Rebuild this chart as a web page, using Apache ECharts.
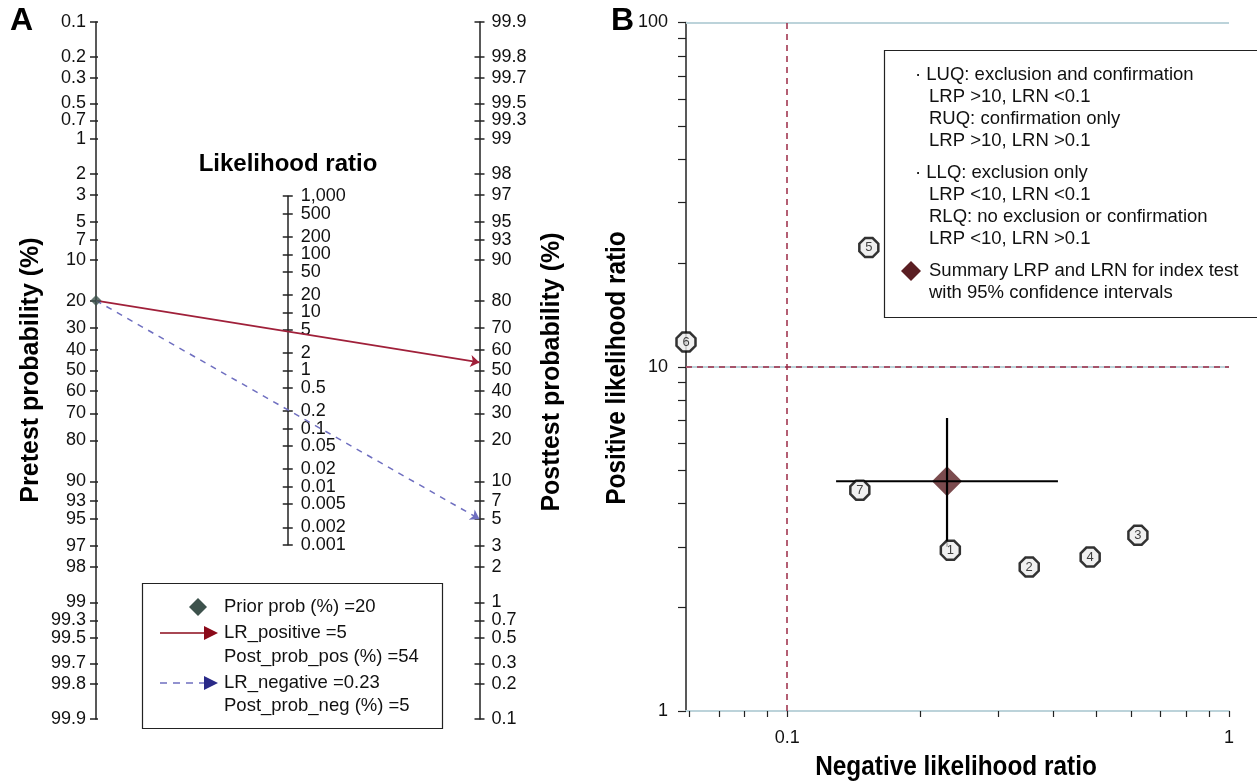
<!DOCTYPE html>
<html><head><meta charset="utf-8">
<script src="https://cdn.jsdelivr.net/npm/echarts@6/dist/echarts.min.js"></script>
<style>html,body{margin:0;padding:0;background:#fff}#c{width:1257px;height:782px}</style>
</head><body><div id="c"></div>
<script>
// ---------- Panel A data (Fagan nomogram) ----------
const probTicks = [0.1,0.2,0.3,0.5,0.7,1,2,3,5,7,10,20,30,40,50,60,70,80,90,93,95,97,98,99,99.3,99.5,99.7,99.8,99.9];
const lrTicks = [1000,500,200,100,50,20,10,5,2,1,0.5,0.2,0.1,0.05,0.02,0.01,0.005,0.002,0.001];
const lrTickLabels = ['1,000','500','200','100','50','20','10','5','2','1','0.5','0.2','0.1','0.05','0.02','0.01','0.005','0.002','0.001'];
const priorProb = 20;
const lrPositive = 5;
const postProbPos = 54;
const lrNegative = 0.23;
const postProbNeg = 5;

// ---------- Panel B data (likelihood ratio scattergram) ----------
const studyIds = ['1','2','3','4','5','6','7'];
const studyLRN = [0.234,0.353,0.622,0.485,0.153,0.059,0.146];
const studyLRP = [2.93,2.62,3.24,2.80,22.2,11.8,4.38];
const summaryLRN = 0.23;
const summaryLRP = 4.65;
const lrnCI = [0.129,0.41];
const lrpCI = [3.0,7.1];
const xTickVals = [0.06,0.07,0.08,0.09,0.1,0.2,0.3,0.4,0.5,0.6,0.7,0.8,0.9,1];
const xLabelVals = [0.1,1];
const yTickVals = [1,2,3,4,5,6,7,8,9,10,20,30,40,50,60,70,80,90,100];
const yLabelVals = [1,10,100];
const xMinVal = 0.059;

const legendA = ['Prior prob (%) =' + priorProb, 'LR_positive =' + lrPositive, 'Post_prob_pos (%) =' + postProbPos, 'LR_negative =' + lrNegative, 'Post_prob_neg (%) =' + postProbNeg];
const legendB = ['· LUQ: exclusion and confirmation','LRP >10, LRN <0.1','RUQ: confirmation only','LRP >10, LRN >0.1','· LLQ: exclusion only','LRP <10, LRN <0.1','RLQ: no exclusion or confirmation','LRP <10, LRN >0.1','Summary LRP and LRN for index test','with 95% confidence intervals'];

// ---------- helpers ----------
const FONT = "'Liberation Sans', Arial, sans-serif";
const logit = p => Math.log(p / (100 - p));
const LMAX = logit(99.9);
const lg = Math.log10;
function nearestLabel(v, vals, labels) {
  let bi = 0, bd = Infinity;
  vals.forEach((x, i) => { const d = Math.abs(x - v); if (d < bd) { bd = d; bi = i; } });
  return labels[bi];
}
const probLabels = probTicks.map(String);
const leftVals = probTicks.map(p => -logit(p));
const rightVals = probTicks.map(p => logit(p));
const midVals = lrTicks.map(lg);
const midValsEven = midVals.filter((v, i) => i % 2 === 0);
const midValsOdd = midVals.filter((v, i) => i % 2 === 1);

// Panel geometry
const gA = {left: 96, top: 22, width: 383.5, height: 697};
const pxPerUnit = gA.height / (2 * LMAX);
const midHalf = Math.log(1000) / 2 * pxPerUnit;
const gM = {left: gA.left + gA.width / 2, top: gA.top + gA.height / 2 - midHalf, width: 1, height: 2 * midHalf};
const gB = {left: 686, top: 22.5, width: 543, height: 688.5};

const tickLbl = {fontSize: 18, color: '#111', fontFamily: FONT, showMinLabel: true, showMaxLabel: true, hideOverlap: false};
const blk = {color: '#222', width: 1.5};

function probAxis(pos, vals, withLabels, inside, len) {
  return {
    type: 'value', gridIndex: 0, position: pos, min: -LMAX, max: LMAX,
    axisLine: {show: withLabels, onZero: false, lineStyle: blk},
    axisTick: {show: true, inside: inside, length: len, lineStyle: blk, customValues: vals},
    axisLabel: withLabels ? Object.assign({show: true, margin: pos === 'left' ? 10 : 12, customValues: vals,
      formatter: v => nearestLabel(v, vals, probLabels)}, tickLbl) : {show: false},
    splitLine: {show: false}
  };
}
// middle LR axis: labels split over two overlapping axes so none are auto-hidden
function midAxis(labelVals, showLine, inside) {
  return {
    type: 'value', gridIndex: 1, position: 'left', min: -3, max: 3,
    axisLine: {show: showLine, onZero: false, lineStyle: blk},
    axisTick: {show: true, inside: inside, length: 5, lineStyle: blk, customValues: midVals},
    axisLabel: labelVals ? Object.assign({show: true, inside: true, margin: 13, customValues: labelVals,
      formatter: v => nearestLabel(v, midVals, lrTickLabels)}, tickLbl) : {show: false},
    splitLine: {show: false}
  };
}

const studyData = studyIds.map((id, i) => ({name: id, value: [lg(studyLRN[i]), lg(studyLRP[i])]}));
const octagon = 'path://M30,0 L70,0 L100,30 L100,70 L70,100 L30,100 L0,70 L0,30 Z';

const gfx = [];
gfx.push({type: 'text', left: 10, top: 5, style: {text: 'A', font: 'bold 32px ' + FONT, fill: '#000'}});
gfx.push({type: 'text', left: 611, top: 5, style: {text: 'B', font: 'bold 32px ' + FONT, fill: '#000'}});
function vtitle(txt, x, y, font, sx) {
  gfx.push({type: 'text', x: x, y: y, rotation: Math.PI / 2, scaleX: sx || 1,
    style: {text: txt, font: font, fill: '#000', textAlign: 'center', textVerticalAlign: 'middle'}});
}
vtitle('Pretest probability (%)', 31, 370, 'bold 25px ' + FONT);
vtitle('Posttest probability (%)', 552, 372, 'bold 25px ' + FONT);
vtitle('Positive likelihood ratio', 617, 368, 'bold 28px ' + FONT, 0.87);
gfx.push({type: 'text', x: 288, y: 164, style: {text: 'Likelihood ratio', font: 'bold 24px ' + FONT, fill: '#000', textAlign: 'center', textVerticalAlign: 'middle'}});
gfx.push({type: 'text', x: 956, y: 767, scaleX: 0.87, style: {text: 'Negative likelihood ratio', font: 'bold 28px ' + FONT, fill: '#000', textAlign: 'center', textVerticalAlign: 'middle'}});

// legend A
gfx.push({type: 'rect', shape: {x: 142.5, y: 583.5, width: 300, height: 145}, style: {fill: '#fff', stroke: '#222', lineWidth: 1.2}, z: 10});
const lyA = [607, 633, 657, 683, 706];
legendA.forEach((t, i) => gfx.push({type: 'text', x: 224, y: lyA[i], z: 11,
  style: {text: t, font: '18.5px ' + FONT, fill: '#111', textVerticalAlign: 'middle'}}));
gfx.push({type: 'polygon', z: 11, shape: {points: [[198, 598], [207, 607], [198, 616], [189, 607]]}, style: {fill: '#3d524c'}});
gfx.push({type: 'line', z: 11, shape: {x1: 160, y1: 633, x2: 206, y2: 633}, style: {stroke: '#8b0a1a', lineWidth: 1.5}});
gfx.push({type: 'polygon', z: 11, shape: {points: [[204, 626], [218, 633], [204, 640]]}, style: {fill: '#8b0a1a'}});
gfx.push({type: 'line', z: 11, shape: {x1: 160, y1: 683, x2: 206, y2: 683}, style: {stroke: '#6f6fc0', lineWidth: 1.5, lineDash: [7, 6]}});
gfx.push({type: 'polygon', z: 11, shape: {points: [[204, 676], [218, 683], [204, 690]]}, style: {fill: '#2a2a88'}});

// legend B
gfx.push({type: 'rect', shape: {x: 884.5, y: 50.5, width: 380, height: 267}, style: {fill: '#fff', stroke: '#222', lineWidth: 1.2}, z: 10});
const lyB = [75, 97, 119, 141, 173, 195, 217, 239, 271, 293];
legendB.forEach((t, i) => {
  const dot = t.startsWith('·');
  gfx.push({type: 'text', x: dot ? 915 : 929, y: lyB[i], z: 11,
    style: {text: t, font: '18.5px ' + FONT, fill: '#111', textVerticalAlign: 'middle'}});
});
gfx.push({type: 'polygon', z: 11, shape: {points: [[911, 261], [921, 271], [911, 281], [901, 271]]}, style: {fill: '#5a1e22'}});

const gridBase = {outerBoundsMode: 'none', containLabel: false};
const option = {
  animation: false,
  backgroundColor: '#fff',
  textStyle: {fontFamily: FONT},
  grid: [Object.assign({}, gridBase, gA), Object.assign({}, gridBase, gM), Object.assign({}, gridBase, gB)],
  xAxis: [
    {type: 'value', gridIndex: 0, min: 0, max: 1, show: false},
    {type: 'value', gridIndex: 1, min: 0, max: 1, show: false},
    {type: 'value', gridIndex: 2, position: 'bottom', min: lg(xMinVal), max: 0,
      axisLine: {show: true, onZero: false, lineStyle: {color: '#bcd3da', width: 2}},
      axisTick: {show: true, inside: false, length: 6, lineStyle: {color: '#222', width: 1.2}, customValues: xTickVals.map(lg)},
      axisLabel: Object.assign({margin: 18, customValues: xLabelVals.map(lg),
        formatter: v => nearestLabel(v, xLabelVals.map(lg), xLabelVals.map(String))}, tickLbl),
      splitLine: {show: false}}
  ],
  yAxis: [
    probAxis('left', leftVals, true, false, 6),
    probAxis('right', rightVals, true, false, 5),
    probAxis('left', leftVals, false, true, 2),
    probAxis('right', rightVals, false, true, 5),
    midAxis(midValsEven, true, false),
    midAxis(midValsOdd, false, true),
    {type: 'value', gridIndex: 2, position: 'left', min: 0, max: 2,
      axisLine: {show: true, onZero: false, lineStyle: {color: '#222', width: 1.5}},
      axisTick: {show: true, inside: false, length: 8, lineStyle: {color: '#222', width: 1.2}, customValues: yTickVals.map(lg)},
      axisLabel: Object.assign({margin: 18, customValues: yLabelVals.map(lg),
        formatter: v => nearestLabel(v, yLabelVals.map(lg), yLabelVals.map(String))}, tickLbl),
      splitLine: {show: false}}
  ],
  series: [
    {type: 'lines', coordinateSystem: 'cartesian2d', xAxisIndex: 0, yAxisIndex: 1, z: 3,
      symbol: ['none', 'arrow'], symbolSize: 9,
      lineStyle: {color: '#a0203a', width: 1.7, type: 'solid', opacity: 1},
      data: [{coords: [[0, -logit(priorProb)], [1, logit(postProbPos)]]}]},
    {type: 'lines', coordinateSystem: 'cartesian2d', xAxisIndex: 0, yAxisIndex: 1, z: 3,
      symbol: ['none', 'arrow'], symbolSize: 9,
      lineStyle: {color: '#6f6fc0', width: 1.5, type: [6, 6], opacity: 1},
      data: [{coords: [[0, -logit(priorProb)], [1, logit(postProbNeg)]]}]},
    {type: 'scatter', xAxisIndex: 0, yAxisIndex: 1, z: 4, symbol: 'diamond', symbolSize: 11,
      itemStyle: {color: '#3d524c'}, data: [[0, -logit(priorProb)]]},
    {type: 'line', xAxisIndex: 2, yAxisIndex: 6, data: [], z: 1,
      markLine: {silent: true, symbol: 'none', label: {show: false},
        lineStyle: {color: '#bcd3da', width: 2, type: 'solid'},
        data: [{yAxis: 2}, {yAxis: 1}]}},
    {type: 'line', xAxisIndex: 2, yAxisIndex: 6, data: [], z: 2,
      markLine: {silent: true, symbol: 'none', label: {show: false},
        lineStyle: {color: '#9c2a45', width: 1.5, type: [6, 5]},
        data: [{yAxis: 1}, {xAxis: -1}]}},
    {type: 'scatter', xAxisIndex: 2, yAxisIndex: 6, z: 3, symbol: 'diamond', symbolSize: 30,
      itemStyle: {color: '#5a1e22'}, data: [[lg(summaryLRN), lg(summaryLRP)]]},
    {type: 'line', xAxisIndex: 2, yAxisIndex: 6, z: 4, symbol: 'none',
      lineStyle: {color: '#000', width: 2.2},
      data: [[lg(lrnCI[0]), lg(summaryLRP)], [lg(lrnCI[1]), lg(summaryLRP)]]},
    {type: 'line', xAxisIndex: 2, yAxisIndex: 6, z: 4, symbol: 'none',
      lineStyle: {color: '#000', width: 2.2},
      data: [[lg(summaryLRN), lg(lrpCI[0])], [lg(summaryLRN), lg(lrpCI[1])]]},
    {type: 'scatter', xAxisIndex: 2, yAxisIndex: 6, z: 5, symbol: octagon, symbolSize: 19,
      itemStyle: {color: '#ececec', borderColor: '#000', borderWidth: 2.5},
      label: {show: true, position: 'inside', formatter: p => p.name, fontSize: 13, color: '#111', fontFamily: FONT},
      data: studyData}
  ],
  graphic: gfx
};
const chart = echarts.init(document.getElementById('c'));
chart.setOption(option);
</script></body></html>
